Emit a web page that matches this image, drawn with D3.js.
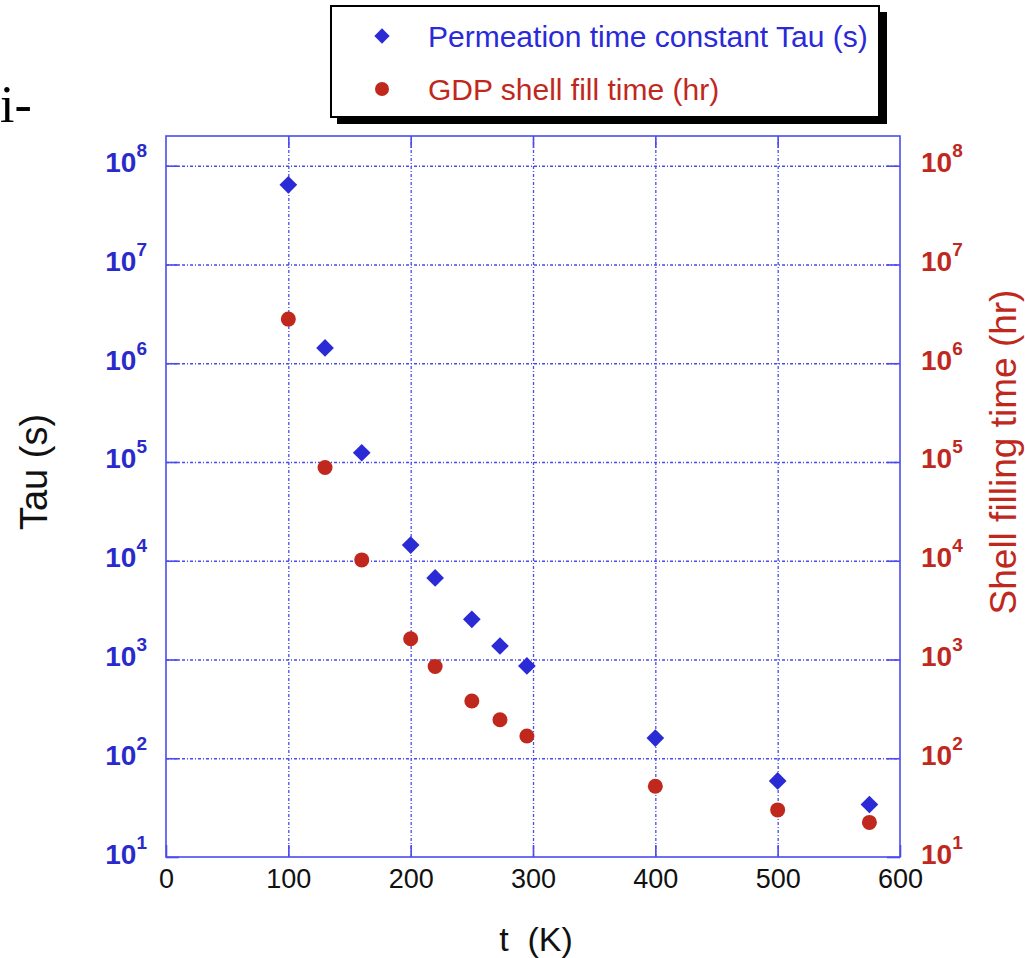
<!DOCTYPE html>
<html>
<head>
<meta charset="utf-8">
<script src="https://cdn.jsdelivr.net/npm/d3@7"></script>
<style>
  html, body { margin: 0; padding: 0; background: #fff; }
  svg { display: block; }
  text { font-family: "Liberation Sans", Arial, sans-serif; }
</style>
</head>
<body>
<svg id="chart" width="1025" height="958"></svg>
<script>
// ---- data ----
const temperatures = [100, 130, 160, 200, 220, 250, 273, 295, 400, 500, 575];
const tauSeconds   = [6.4e7, 1.43e6, 1.24e5, 1.44e4, 6.7e3, 2.55e3, 1.37e3, 8.6e2, 1.6e2, 59, 34];
const fillHours    = [2.8e6, 8.8e4, 1.02e4, 1.62e3, 8.5e2, 3.8e2, 2.45e2, 1.68e2, 52, 30, 22.4];
const xTicks = [0, 100, 200, 300, 400, 500, 600];
const yTicks = [1e1, 1e2, 1e3, 1e4, 1e5, 1e6, 1e7, 1e8];
const xGrid = [100, 200, 300, 400, 500];
const yGrid = [1e2, 1e3, 1e4, 1e5, 1e6, 1e7, 1e8];
const seriesNames = ["Permeation time constant Tau (s)", "GDP shell fill time (hr)"];

// ---- layout ----
const L = 166, R = 900, T = 136, B = 857;
const blue = "#2b2bd6", blueAxis = "#4b4bef", red = "#c0281e";

const svg = d3.select("#chart");
const x = d3.scaleLinear().domain([0, 600]).range([L, R]);
const y = d3.scaleLog().domain([10, 2e8]).range([B, T]);

// grid
svg.append("g").attr("transform", `translate(0,${B})`)
  .call(d3.axisBottom(x).tickValues(xGrid).tickSize(-(B - T)).tickFormat(""))
  .call(g => g.select(".domain").remove())
  .selectAll("line").attr("stroke", blueAxis).attr("stroke-width", 1.3)
  .attr("stroke-dasharray", "3,2,1,2");
svg.append("g").attr("transform", `translate(${L},0)`)
  .call(d3.axisLeft(y).tickValues(yGrid).tickSize(-(R - L)).tickFormat(""))
  .call(g => g.select(".domain").remove())
  .selectAll("line").attr("stroke", blueAxis).attr("stroke-width", 1.3)
  .attr("stroke-dasharray", "3,2,1,2");

// frame
svg.append("rect").attr("x", L).attr("y", T).attr("width", R - L).attr("height", B - T)
  .attr("fill", "none").attr("stroke", blueAxis).attr("stroke-width", 1.6);

function supLabels(g, color, bold) {
  g.selectAll(".tick text").each(function(d) {
    const t = d3.select(this);
    t.text(null).attr("dy", 6).attr("fill", color)
      .attr("font-size", 28).attr("font-weight", bold ? "bold" : "normal");
    t.append("tspan").text("10");
    t.append("tspan").attr("dy", -15).attr("font-size", 19).text(Math.round(Math.log10(d)));
  });
}

// left axis
svg.append("g").attr("transform", `translate(${L},0)`)
  .call(d3.axisLeft(y).tickValues(yTicks).tickSize(-13).tickPadding(19))
  .call(g => g.select(".domain").remove())
  .call(g => g.selectAll("line").attr("stroke", blueAxis).attr("stroke-width", 1.6))
  .call(g => supLabels(g, "#2a2acc", true));

// right axis
svg.append("g").attr("transform", `translate(${R},0)`)
  .call(d3.axisRight(y).tickValues(yTicks).tickSize(-13).tickPadding(21))
  .call(g => g.select(".domain").remove())
  .call(g => g.selectAll("line").attr("stroke", blueAxis).attr("stroke-width", 1.6))
  .call(g => supLabels(g, red, true));

// bottom axis
svg.append("g").attr("transform", `translate(0,${B})`)
  .call(d3.axisBottom(x).tickValues(xTicks).tickSize(-12).tickPadding(12))
  .call(g => g.select(".domain").remove())
  .call(g => g.selectAll("line").attr("stroke", blueAxis).attr("stroke-width", 1.6))
  .call(g => g.selectAll("text").attr("fill", "#111").attr("font-size", 27).attr("dy", "0.71em"));

// top ticks
svg.append("g").attr("transform", `translate(0,${T})`)
  .call(d3.axisTop(x).tickValues(xGrid).tickSize(-12).tickFormat(""))
  .call(g => g.select(".domain").remove())
  .call(g => g.selectAll("line").attr("stroke", blueAxis).attr("stroke-width", 1.6));

// markers
const diamond = d3.symbol().type(d3.symbolDiamond2).size(200);
svg.append("g").selectAll("path").data(temperatures).join("path")
  .attr("d", diamond)
  .attr("transform", (d, i) => `translate(${x(d)},${y(tauSeconds[i])})`)
  .attr("fill", blue);
svg.append("g").selectAll("circle").data(temperatures).join("circle")
  .attr("cx", d => x(d)).attr("cy", (d, i) => y(fillHours[i])).attr("r", 7.5)
  .attr("fill", red);

// axis titles
svg.append("text").attr("transform", "translate(47,472) rotate(-90)")
  .attr("text-anchor", "middle").attr("font-size", 38).attr("fill", "#111").text("Tau (s)");
svg.append("text").attr("transform", "translate(1016,452) rotate(-90)")
  .attr("text-anchor", "middle").attr("font-size", 37).attr("fill", red).text("Shell filling time (hr)");
svg.append("text").attr("x", 536).attr("y", 951).attr("text-anchor", "middle")
  .attr("font-size", 34).attr("fill", "#111").style("white-space", "pre").text("t  (K)");

// stray text fragment at top-left
svg.append("text").attr("x", 0).attr("y", 122)
  .style("font-family", "'Liberation Serif', 'Times New Roman', serif")
  .attr("font-size", 52).attr("fill", "#000").text("i-");

// legend
const lg = svg.append("g");
lg.append("rect").attr("x", 337).attr("y", 12).attr("width", 550).attr("height", 112).attr("fill", "#000");
lg.append("rect").attr("x", 331).attr("y", 6).attr("width", 548).attr("height", 111)
  .attr("fill", "#fff").attr("stroke", "#000").attr("stroke-width", 2);
lg.append("path").attr("d", d3.symbol().type(d3.symbolDiamond2).size(150))
  .attr("transform", "translate(382,36)").attr("fill", blue);
lg.append("circle").attr("cx", 382).attr("cy", 89).attr("r", 7).attr("fill", red);
lg.append("text").attr("x", 428).attr("y", 47).attr("font-size", 30).attr("fill", "#2a2ad8").text(seriesNames[0]);
lg.append("text").attr("x", 428).attr("y", 100).attr("font-size", 30).attr("fill", red).text(seriesNames[1]);
</script>
</body>
</html>
